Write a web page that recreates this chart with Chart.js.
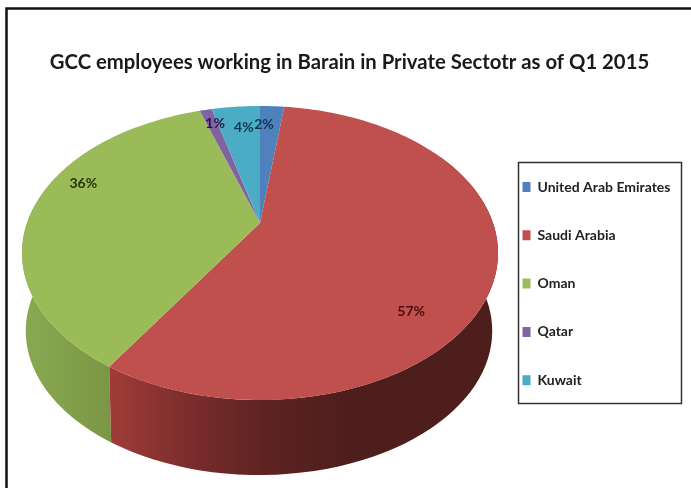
<!DOCTYPE html>
<html>
<head>
<meta charset="utf-8">
<style>
html, body { margin: 0; padding: 0; background: #fff; }
canvas { display: block; filter: blur(0.5px); }
</style>
<script src="https://cdn.jsdelivr.net/npm/chart.js@4/dist/chart.umd.min.js"></script>
</head>
<body>
<canvas id="chart" width="691" height="488"></canvas>
<script>
"use strict";

var categories = ['United Arab Emirates', 'Saudi Arabia', 'Oman', 'Qatar', 'Kuwait'];
var shares = [2, 57, 36, 1, 4];
var sliceColors = ['#4f81bd', '#c0504d', '#9bbb59', '#8064a2', '#4bacc6'];
var labelColors = ['#0e3550', '#4a0d10', '#25350f', '#2a1445', '#0e3a50'];

// where each label sits inside its slice: fraction of radius, degrees off the slice middle
var labelRadius = [0.82, 0.80, 0.857, 0.86, 0.795];
var labelTurn = [-2.2, 24.2, 13, 1, 1.4];

// perspective of the tilted pie, fitted to the picture
var pie = { cx: 260, cy: 253, width: 233, height: 147, shift: -30, tilt: -0.204 };
var wall = { scale: 0.98, drop: 78, nudge: -1 };

function project(u, v) {
    var w = 1 + pie.tilt * v;
    return {
        x: pie.cx + pie.width * u / w,
        y: pie.cy + (pie.height * v + pie.shift) / w
    };
}

function rimPoint(angle) {
    return project(Math.cos(angle), Math.sin(angle));
}

function lowerPoint(angle) {
    var p = rimPoint(angle);
    return {
        x: pie.cx + (p.x - pie.cx) * wall.scale + wall.nudge,
        y: pie.cy + (p.y - pie.cy) * wall.scale + wall.drop
    };
}

function drawWall(ctx, from, to, stops) {
    var n = 60;
    var i, a, p;
    ctx.beginPath();
    for (i = 0; i <= n; i++) {
        a = from + (to - from) * i / n;
        p = rimPoint(a);
        if (i === 0) {
            ctx.moveTo(p.x, p.y);
        } else {
            ctx.lineTo(p.x, p.y);
        }
    }
    for (i = n; i >= 0; i--) {
        a = from + (to - from) * i / n;
        p = lowerPoint(a);
        ctx.lineTo(p.x, p.y);
    }
    ctx.closePath();
    var grad = ctx.createLinearGradient(stops[0], 0, stops[1], 0);
    stops[2].forEach(function(c, idx) {
        grad.addColorStop(idx / (stops[2].length - 1), c);
    });
    ctx.fillStyle = grad;
    ctx.fill();
}

function drawSlice(ctx, arc, color) {
    var n = Math.max(4, Math.ceil((arc.endAngle - arc.startAngle) * 40));
    var apex = project(0, 0);
    ctx.beginPath();
    ctx.moveTo(apex.x, apex.y);
    for (var i = 0; i <= n; i++) {
        var p = rimPoint(arc.startAngle + (arc.endAngle - arc.startAngle) * i / n);
        ctx.lineTo(p.x, p.y);
    }
    ctx.closePath();
    ctx.fillStyle = color;
    ctx.fill();
}

var pie3d = {
    id: 'pie3d',
    beforeDraw: function(chart) {
        var ctx = chart.ctx;
        ctx.save();
        ctx.fillStyle = '#fff';
        ctx.fillRect(0, 0, chart.width, chart.height);
        // picture frame, open on the right and at the bottom
        ctx.strokeStyle = '#111';
        ctx.lineWidth = 2.5;
        ctx.beginPath();
        ctx.moveTo(6.5, 488);
        ctx.lineTo(6.5, 8.5);
        ctx.lineTo(691, 8.5);
        ctx.stroke();
        // legend frame
        ctx.strokeStyle = '#333';
        ctx.lineWidth = 1.5;
        ctx.strokeRect(518.5, 162.5, 163, 241);
        ctx.restore();
    },
    afterLayout: function(chart) {
        var legend = chart.legend;
        var pad = legend.options.labels.padding;
        // the layout only offers half the page height, the legend needs more
        legend.maxHeight = chart.height;
        legend.fit();
        legend.left = 522.5 - pad;
        legend.right = 681;
        legend.top = 145.7;
        legend.bottom = chart.height;
    },
    beforeDatasetDraw: function(chart, args) {
        var ctx = chart.ctx;
        var arcs = chart.getDatasetMeta(args.index).data;
        var saudi = arcs[1];
        var oman = arcs[2];
        ctx.save();
        drawWall(ctx, oman.startAngle, oman.endAngle - 0.35, [24, 110, ['#8aa851', '#7b9745']]);
        drawWall(ctx, saudi.startAngle + 0.9, saudi.endAngle, [110, 350, ['#a03c38', '#7a2d2c', '#5c2321', '#4e1e1c']]);
        arcs.forEach(function(arc, i) {
            drawSlice(ctx, arc, sliceColors[i]);
        });
        // value labels
        ctx.font = 'bold 14px Lato';
        ctx.textAlign = 'center';
        ctx.textBaseline = 'middle';
        arcs.forEach(function(arc, i) {
            var mid = (arc.startAngle + arc.endAngle) / 2 + labelTurn[i] * Math.PI / 180;
            var p = project(labelRadius[i] * Math.cos(mid), labelRadius[i] * Math.sin(mid));
            ctx.fillStyle = labelColors[i];
            ctx.fillText(shares[i] + '%', p.x, p.y);
        });
        ctx.restore();
        return false;
    }
};

var chart = new Chart(document.getElementById('chart'), {
    type: 'pie',
    data: {
        labels: categories,
        datasets: [{
            data: shares,
            backgroundColor: sliceColors,
            borderWidth: 0
        }]
    },
    plugins: [pie3d],
    options: {
        responsive: false,
        animation: false,
        layout: { padding: { left: 12, right: 4, top: 0, bottom: 0 } },
        plugins: {
            title: {
                display: true,
                text: 'GCC employees working in Barain in Private Sectotr as of Q1 2015',
                color: '#1a1a1a',
                font: { family: 'Lato', size: 20.3, weight: 'bold' },
                padding: { top: 50, bottom: 20 }
            },
            legend: {
                position: 'right',
                align: 'start',
                labels: {
                    boxWidth: 8,
                    boxHeight: 10,
                    padding: 34.3,
                    color: '#222',
                    font: { family: 'Lato', size: 14, weight: 'bold' }
                }
            },
            tooltip: { enabled: false }
        }
    }
});
</script>
</body>
</html>
